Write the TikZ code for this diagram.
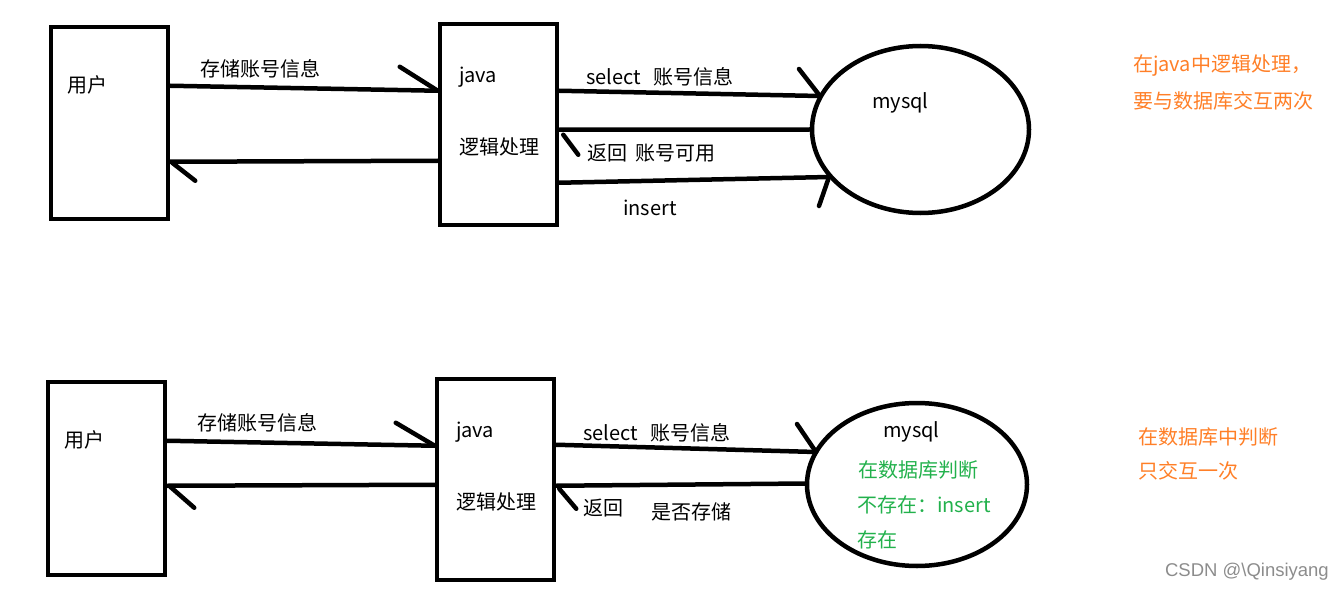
\documentclass[tikz,border=0pt]{standalone}
\usepackage{fontspec}
\setmainfont{Noto Sans CJK SC}
\newfontfamily\wmfont{Liberation Sans}
\usetikzlibrary{shapes.geometric,calc}
\definecolor{paintorange}{HTML}{FF7F27}
\definecolor{paintgreen}{HTML}{22B14C}
\definecolor{wmgray}{HTML}{8C8C8C}
\begin{document}
\begin{tikzpicture}[x=1pt,y=-1pt,
  stroke/.style={line width=4.5pt},
  boxnode/.style={draw,stroke,rectangle,inner sep=0pt,minimum width=117pt},
  dbnode/.style={draw,stroke,ellipse,inner sep=0pt},
  conn/.style={stroke,line cap=round},
  barb/.style={stroke,line cap=round},
  lbl/.style={anchor=west,inner sep=0pt,font=\fontsize{20}{22}\selectfont},
  note/.style={lbl,text=paintorange},
  gnote/.style={lbl,text=paintgreen}]
\useasboundingbox (0,0) rectangle (1344,591);

% ---------- top diagram ----------
\node[boxnode,minimum height=192pt] (u1) at (109.5,123) {};
\node[boxnode,minimum height=201pt] (j1) at (498.5,124.5) {};
\node[dbnode,minimum width=217pt,minimum height=167pt] (m1) at (920.5,129.5) {};

\node[lbl] (u1t) at (67,85) {用户};
\node[lbl] (j1a) at (459,77) {java};
\node[lbl] (j1b) at (459,147) {逻辑处理};
\node[lbl] (m1t) at (872,103) {mysql};

\coordinate (a1s) at ($(u1.north east)+(0,61)$);
\coordinate (a1e) at ($(j1.north west)+(0,69)$);
\draw[conn] (a1s) -- (a1e);
\draw[barb] (a1e) -- ++(-38,-24);
\node[lbl] (l1) at (200,69) {存储账号信息};

\coordinate (a2s) at ($(j1.north west)+(0,139)$);
\coordinate (a2e) at ($(u1.north east)+(0,137)$);
\draw[conn] (a2s) -- (a2e);
\draw[barb] ($(a2e)+(2,1)$) -- ++(23,18);

\coordinate (s1s) at ($(j1.north east)+(0,69)$);
\coordinate (s1e) at (820,96);
\draw[conn] (s1s) -- (s1e);
\draw[barb] (s1e) -- ++(-21,-27);
\node[lbl] (l2) at (586,77) {select};
\node[lbl] (l3) at (653,77) {账号信息};

\coordinate (r1s) at (m1.west);
\coordinate (r1e) at ($(j1.north east)+(0,108)$);
\draw[conn] (r1s) -- (r1e);
\draw[barb] ($(r1e)+(4,5)$) -- ++(15,20);
\node[lbl] (l4) at (587,153) {返回};
\node[lbl] (l5) at (635,153) {账号可用};

\coordinate (i1s) at ($(j1.north east)+(0,161)$);
\coordinate (i1e) at (829,177);
\draw[conn] (i1s) -- (i1e);
\draw[barb] (i1e) -- ++(-10,29);
\node[lbl] (l6) at (623,208) {insert};

\node[note] (n1) at (1133,66) {在java中逻辑处理，};
\node[note] (n2) at (1133,101) {要与数据库交互两次};

% ---------- bottom diagram ----------
\node[boxnode,minimum height=193pt] (u2) at (106.5,478.5) {};
\node[boxnode,minimum height=201pt] (j2) at (495.5,479.5) {};
\node[dbnode,minimum width=220pt,minimum height=163pt] (m2) at (917,484.5) {};

\node[lbl] (u2t) at (64,440) {用户};
\node[lbl] (j2a) at (456,432) {java};
\node[lbl] (j2b) at (456,502) {逻辑处理};
\node[lbl] (m2t) at (883,432) {mysql};
\node[gnote] (g1) at (858,470) {在数据库判断};
\node[gnote] (g2) at (857,505) {不存在：insert};
\node[gnote] (g3) at (857,540) {存在};

\coordinate (a3s) at ($(u2.north east)+(0,61)$);
\coordinate (a3e) at ($(j2.north west)+(0,69)$);
\draw[conn] (a3s) -- (a3e);
\draw[barb] (a3e) -- ++(-39,-23);
\node[lbl] (l7) at (197,423) {存储账号信息};

\coordinate (a4s) at ($(j2.north west)+(0,108)$);
\coordinate (a4e) at ($(u2.north east)+(0,106)$);
\draw[conn] (a4s) -- (a4e);
\draw[barb] ($(a4e)+(3,1)$) -- ++(24,21);

\coordinate (s2s) at ($(j2.north east)+(0,68)$);
\coordinate (s2e) at (816,452);
\draw[conn] (s2s) -- (s2e);
\draw[barb] (s2e) -- ++(-19,-28);
\node[lbl] (l8) at (583,433) {select};
\node[lbl] (l9) at (650,433) {账号信息};

\coordinate (r2s) at ($(m2.west)+(1,-1)$);
\coordinate (r2e) at ($(j2.north east)+(0,109)$);
\draw[conn] (r2s) -- (r2e);
\draw[barb] ($(r2e)+(3,3)$) -- ++(17,20);
\node[lbl] (l10) at (583,508) {返回};
\node[lbl] (l11) at (651,512) {是否存储};

\node[note] (n3) at (1138,437) {在数据库中判断};
\node[note] (n4) at (1138,471) {只交互一次};

\node[anchor=east,inner sep=0pt,text=wmgray,font=\wmfont\fontsize{18.5}{20}\selectfont] (wm) at (1329,572) {CSDN @\textbackslash Qinsiyang};
\end{tikzpicture}
\end{document}
